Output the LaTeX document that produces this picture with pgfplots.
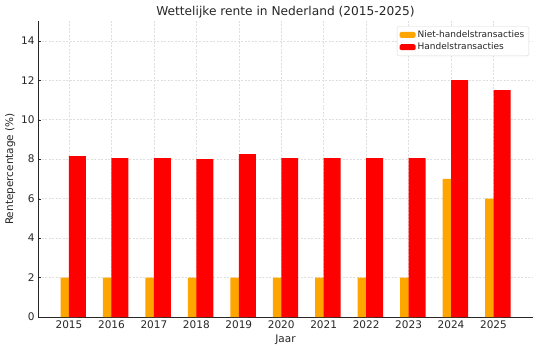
\documentclass[border=0pt]{standalone}
\usepackage{fontspec}
\setmainfont{DejaVu Sans}
\usepackage{pgfplots}
\pgfplotsset{compat=1.18}
\definecolor{cOrange}{HTML}{FFA500}
\definecolor{cRed}{HTML}{FF0000}
\begin{document}
\begin{tikzpicture}
\begin{axis}[
  at={(0,0)}, anchor=south west,
  scale only axis, width=495pt, height=296pt,
  xmin=2014.27, xmax=2025.93, ymin=0, ymax=15,
  xtick={2015,...,2025}, ytick={0,2,...,14},
  axis lines*=left, axis line style={-, black!85},
  tick align=inside, major tick length=3.5pt,
  tick style={black!85},
  /pgf/number format/assume math mode=true,
  xticklabel style={/pgf/number format/1000 sep={}, font=\fontsize{10.5}{12}\selectfont, text=black!85},
  yticklabel style={font=\fontsize{10.5}{12}\selectfont, text=black!85},
  grid=major, grid style={dash pattern=on 2pt off 1.5pt, gray!25, line width=0.4pt},
  xlabel={Jaar}, ylabel={Rentepercentage (\%)},
  xlabel style={font=\fontsize{10.5}{12}\selectfont, text=black!85, yshift=0pt},
  ylabel style={font=\fontsize{10.5}{12}\selectfont, text=black!85, yshift=-1pt},
  title={Wettelijke rente in Nederland (2015-2025)},
  title style={font=\fontsize{12.2}{14}\selectfont, text=black!85, yshift=-7pt},
  legend style={font=\fontsize{9}{10.5}\selectfont, text=black!85, draw=gray!30, rounded corners=1.5pt, at={(0.992,0.983)}, anchor=north east, row sep=0pt, inner sep=2.5pt},
  legend cell align=left,
  legend image code/.code={\fill[#1] (0pt,-3pt) rectangle (16pt,3pt);},
]
\addplot[ybar, bar width=0.4, bar shift=0, fill=cOrange, draw=none] coordinates {
(2015,2) (2016,2) (2017,2) (2018,2) (2019,2) (2020,2) (2021,2) (2022,2) (2023,2) (2024,7) (2025,6)};
\addlegendentry{Niet-handelstransacties}
\addplot[ybar, bar width=0.4, bar shift=0.2, fill=cRed, draw=none] coordinates {
(2015,8.15) (2016,8.05) (2017,8.05) (2018,8.0) (2019,8.25) (2020,8.05) (2021,8.05) (2022,8.05) (2023,8.05) (2024,12) (2025,11.5)};
\addlegendentry{Handelstransacties}
\end{axis}
\path[use as bounding box] (-38pt,-34pt) rectangle (502pt,317pt);
\end{tikzpicture}
\end{document}
